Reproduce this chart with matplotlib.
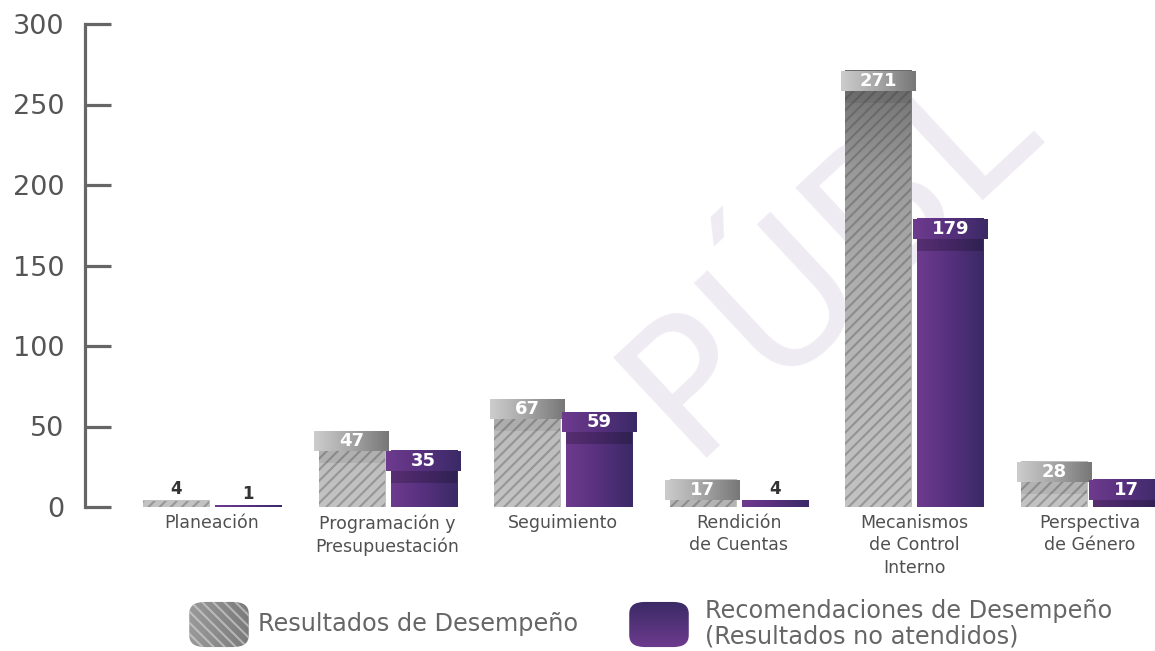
import numpy as np
import matplotlib
matplotlib.use("Agg")
import matplotlib.pyplot as plt
from matplotlib.colors import LinearSegmentedColormap
from matplotlib.patches import Rectangle, FancyBboxPatch

# ---------------- data ----------------
categories = ["Planeación", "Programación y\nPresupuestación", "Seguimiento",
              "Rendición\nde Cuentas", "Mecanismos\nde Control\nInterno",
              "Perspectiva\nde Género"]
resultados = [4, 47, 67, 17, 271, 28]
recomendaciones = [1, 35, 59, 4, 179, 17]
yticks = [0, 50, 100, 150, 200, 250, 300]
legend_labels = ["Resultados de Desempeño",
                 "Recomendaciones de Desempeño\n(Resultados no atendidos)"]

W, H = 1155, 651
fig = plt.figure(figsize=(W / 100, H / 100), dpi=100)
fig.patch.set_facecolor("white")
plt.rcParams["hatch.linewidth"] = 1.5

# watermark (drawn behind everything)
fig.text(830 / W, 1 - 255 / H, "PÚBL", rotation=43, fontsize=135,
         color="#ddd3e6", alpha=0.45, ha="center", va="center",
         family="DejaVu Sans", zorder=-5)

ax = fig.add_axes([85 / W, (H - 507) / H, (W - 85) / W, (507 - 24) / H])
ax.patch.set_alpha(0)

px_per_unit = (507 - 24) / 300.0
cap_h = 20 / px_per_unit
band_h = 12 / px_per_unit
body_w = 0.376
cap_w = 0.425
off = 0.205

gray_v = LinearSegmentedColormap.from_list(
    "gv", [(0, "#c3c3c3"), (0.45, "#b0b0b0"), (0.7, "#999999"), (0.9, "#6c6c6c"), (1, "#5e5e5e")])
gray_h = LinearSegmentedColormap.from_list("gh", ["#cdcdcd", "#a5a5a5", "#777777"])
purp_h = LinearSegmentedColormap.from_list("ph", ["#6e3b8e", "#56307d", "#3a2a66"])

x = np.arange(len(categories))

def hgrad(x0, x1, y0, y1, cmap, z):
    img = np.linspace(0, 1, 256).reshape(1, -1)
    ax.imshow(img, cmap=cmap, extent=[x0, x1, y0, y1], origin="lower",
              aspect="auto", zorder=z, interpolation="bicubic")

for i, (g, p) in enumerate(zip(resultados, recomendaciones)):
    # ---- gray bar ----
    gx = x[i] - off
    img = np.linspace(0, g, 256).reshape(-1, 1)
    ax.imshow(img, cmap=gray_v, vmin=0, vmax=300,
              extent=[gx - body_w / 2, gx + body_w / 2, 0, g], origin="lower",
              aspect="auto", zorder=2)
    ax.bar(gx, g, width=body_w, facecolor="none", edgecolor=(0.25, 0.25, 0.25, 0.33),
           hatch="///", linewidth=0, zorder=3)
    # ---- purple bar ----
    px_ = x[i] + off
    hgrad(px_ - body_w / 2, px_ + body_w / 2, 0, p, purp_h, 2)

    for val, cx, kind in ((g, gx, "g"), (p, px_, "p")):
        if val > cap_h:
            top = val
            ax.add_patch(Rectangle((cx - body_w / 2, top - cap_h - band_h), body_w, band_h,
                                   facecolor="black", alpha=0.07 if kind == "g" else 0.2,
                                   linewidth=0, zorder=4))
            hgrad(cx - cap_w / 2, cx + cap_w / 2, top - cap_h, top,
                  gray_h if kind == "g" else purp_h, 5)
            ax.text(cx, top - cap_h / 2, str(val), ha="center", va="center",
                    color="white", fontsize=13, fontweight="bold",
                    family="DejaVu Sans", zorder=6)
        else:
            ax.text(cx, val + 1.5, str(val), ha="center", va="bottom",
                    color="#333333", fontsize=12, fontweight="bold",
                    family="DejaVu Sans", zorder=6)

# category labels
for i, c in enumerate(categories):
    ax.text(x[i], -4.5, c, ha="center", va="top", fontsize=12.5, color="#505050",
            family="DejaVu Sans", linespacing=1.3, clip_on=False)

ax.set_xlim((85 - 212) / 175.6, (W - 212) / 175.6)
ax.set_ylim(0, 300)
ax.set_yticks(yticks)
ax.set_yticklabels([str(t) for t in yticks])
ax.set_xticks([])
for s in ("top", "right", "bottom"):
    ax.spines[s].set_visible(False)
ax.spines["left"].set_color("#666666")
ax.spines["left"].set_linewidth(2.3)
ax.tick_params(axis="y", direction="in", length=19, width=2.3, color="#666666",
               labelsize=19.5, labelcolor="#555555", pad=15)
for lab in ax.get_yticklabels():
    lab.set_family("DejaVu Sans")

# ---------------- legend ----------------
def icon(x0, y0, w, h, kind):
    a = fig.add_axes([x0 / W, (H - y0 - h) / H, w / W, h / H])
    a.set_xlim(0, 1); a.set_ylim(0, 1); a.axis("off")
    clip = FancyBboxPatch((0.02, 0.02), 0.96, 0.96, boxstyle="round,pad=0,rounding_size=0.25",
                          transform=a.transAxes, facecolor="none", edgecolor="none")
    a.add_patch(clip)
    if kind == "g":
        cm = LinearSegmentedColormap.from_list("gi", ["#9a9a9a", "#7a7a7a"])
        im = a.imshow(np.linspace(0, 1, 64).reshape(1, -1), cmap=cm, extent=[0, 1, 0, 1],
                      aspect="auto", origin="lower")
        hp = FancyBboxPatch((0.02, 0.02), 0.96, 0.96, boxstyle="round,pad=0,rounding_size=0.25",
                            facecolor="none", edgecolor=(0.85, 0.85, 0.85, 0.6), hatch="\\\\\\",
                            linewidth=0)
        a.add_patch(hp)
    else:
        cm = LinearSegmentedColormap.from_list("pi", ["#3a2a66", "#6e3b8e"])
        im = a.imshow(np.linspace(0, 1, 64).reshape(-1, 1), cmap=cm, extent=[0, 1, 0, 1],
                      aspect="auto", origin="upper")
    im.set_clip_path(clip)

icon(188, 601, 62, 47, "g")
icon(628, 601, 62, 47, "p")
fig.text(258 / W, 1 - 624 / H, legend_labels[0], ha="left", va="center",
         fontsize=17.3, color="#666666", family="DejaVu Sans")
fig.text(705 / W, 1 - 624 / H, legend_labels[1], ha="left", va="center",
         fontsize=17.3, color="#666666", family="DejaVu Sans", linespacing=1.1)

fig.savefig("out.png", dpi=100, facecolor="white")
